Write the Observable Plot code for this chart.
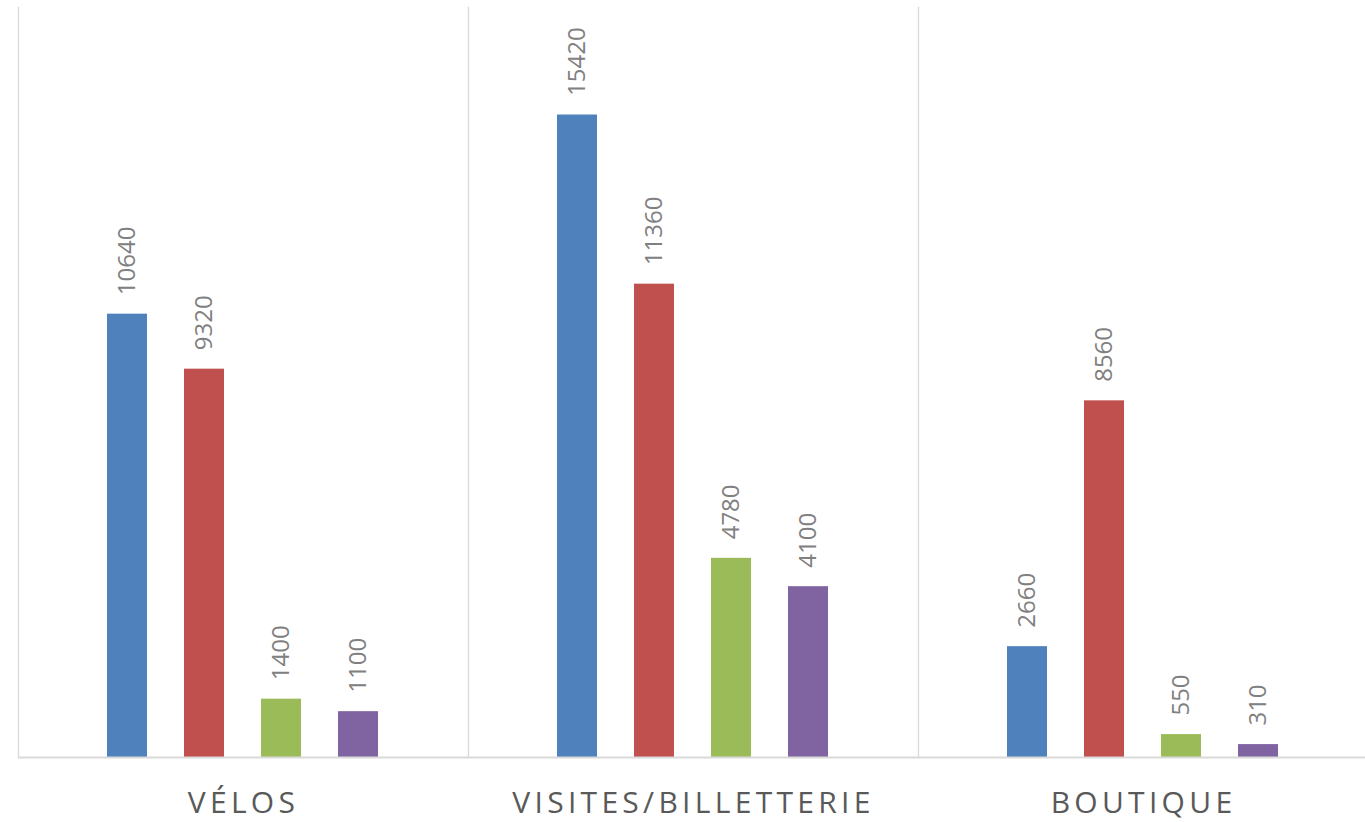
<!DOCTYPE html>
<html>
<head>
<meta charset="utf-8">
<script src="https://cdn.jsdelivr.net/npm/d3@7"></script>
<script src="https://cdn.jsdelivr.net/npm/@observablehq/plot@0.6"></script>
<style>
  html, body { margin: 0; padding: 0; background: #fff; overflow: hidden; }
  #chart svg { display: block; }
  g[aria-label="fx-axis tick label"] text { letter-spacing: 4.3px; }
</style>
</head>
<body>
<div id="chart"></div>
<script>
const categories = ["VÉLOS", "VISITES/BILLETTERIE", "BOUTIQUE"];
const series = ["Série 1", "Série 2", "Série 3", "Série 4"];
const serie1 = [10640, 15420, 2660];
const serie2 = [9320, 11360, 8560];
const serie3 = [1400, 4780, 550];
const serie4 = [1100, 4100, 310];
const colors = ["#4f81bd", "#c0504d", "#9bbb59", "#8064a2"];

const seriesValues = [serie1, serie2, serie3, serie4];
const data = [];
categories.forEach((c, ci) => {
  series.forEach((s, si) => {
    data.push({category: c, series: s, value: seriesValues[si][ci]});
  });
});

const chart = Plot.plot({
  width: 1365,
  height: 822,
  marginLeft: 17,
  marginRight: -4,
  marginTop: 7,
  marginBottom: 65,
  style: {fontFamily: "'Open Sans', sans-serif", background: "#fff"},
  fx: {domain: categories, padding: 0, label: null},
  x: {domain: series, paddingInner: 0.48, paddingOuter: 1.14, axis: null},
  y: {domain: [0, 18000], axis: null},
  color: {domain: series, range: colors},
  marks: [
    Plot.frame({anchor: "left", stroke: "#d9d9d9", strokeWidth: 1.3}),
    Plot.barY(data, {fx: "category", x: "series", y: "value", fill: "series"}),
    Plot.ruleY([0], {stroke: "#d9d9d9", strokeWidth: 2}),
    Plot.text(data, {
      fx: "category", x: "series", y: "value", text: d => String(d.value),
      rotate: -90, textAnchor: "start", lineAnchor: "middle",
      dy: -19, fontSize: 24, fill: "#808080"
    }),
    Plot.axisFx({anchor: "bottom", tickSize: 0, tickPadding: 34, fontSize: 30, fill: "#595959", label: null})
  ]
});
document.getElementById("chart").appendChild(chart);
</script>
</body>
</html>
